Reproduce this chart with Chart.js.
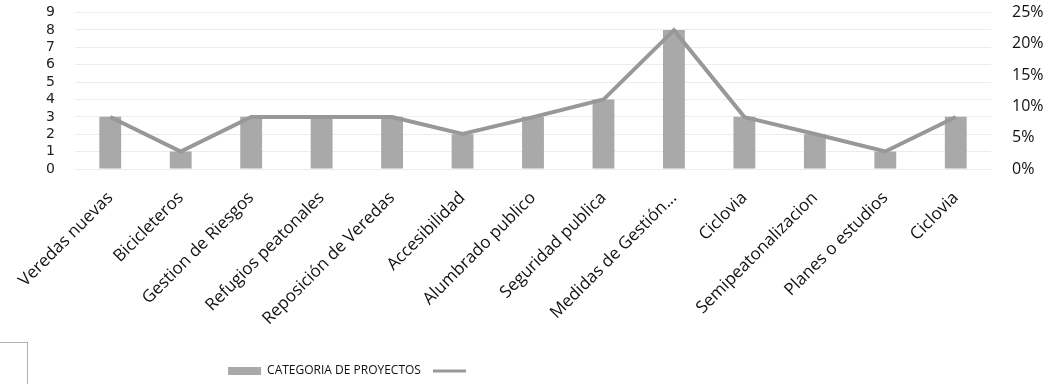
<!DOCTYPE html>
<html>
<head>
<meta charset="utf-8">
<script src="https://cdn.jsdelivr.net/npm/chart.js@4"></script>
<style>
  html, body { margin: 0; padding: 0; background: #fff; overflow: hidden; }
  #wrap { position: relative; width: 1060px; height: 384px; overflow: hidden; }
  #myChart { position: absolute; left: 0; top: -18px; }
  #corner { position: absolute; left: -1px; top: 342px; width: 27px; height: 50px; border: 1px solid #b0b0b0; }
</style>
</head>
<body>
<div id="wrap">
  <canvas id="myChart" width="1060" height="402"></canvas>
  <div id="corner"></div>
</div>
<script>
const categories = [
  'Veredas nuevas', 'Bicicleteros', 'Gestion de Riesgos', 'Refugios peatonales',
  'Reposición de Veredas', 'Accesibilidad', 'Alumbrado publico', 'Seguridad publica',
  'Medidas de Gestión...', 'Ciclovia', 'Semipeatonalizacion', 'Planes o estudios', 'Ciclovia'
]
const projectCounts = [3, 1, 3, 3, 3, 2, 3, 4, 8, 3, 2, 1, 3]
const projectShare = [8.3, 2.8, 8.3, 8.3, 8.3, 5.6, 8.3, 11.1, 22.2, 8.3, 5.6, 2.8, 8.3]
const leftTicks = [0, 1, 2, 3, 4, 5, 6, 7, 8, 9]
const rightTicks = [0, 5, 10, 15, 20, 25]

const barGray = '#a9a9a9'
const lineGray = '#989898'

// push the legend over to where it sits in the original page
const legendShift = {
  id: 'legendShift',
  afterLayout (chart) {
    const lg = chart.legend
    if (!lg) return
    lg.left -= 180
    lg.right -= 180
    lg.top += 3
    lg.bottom += 3
  }
}

var ctx = document.getElementById('myChart').getContext('2d');
var chart = new Chart(ctx, {
  type: 'bar',
  data: {
    labels: categories,
    datasets: [
      {
        type: 'line',
        label: '',
        data: projectShare,
        yAxisID: 'y1',
        borderColor: lineGray,
        backgroundColor: lineGray,
        borderWidth: 4,
        pointRadius: 0,
        pointStyle: 'line',
        tension: 0,
        order: 0
      },
      {
        label: 'CATEGORIA DE PROYECTOS',
        data: projectCounts,
        yAxisID: 'y',
        backgroundColor: barGray,
        borderWidth: 0,
        categoryPercentage: 1,
        barPercentage: 0.31,
        order: 1
      }
    ]
  },
  options: {
    responsive: false,
    animation: false,
    layout: { padding: 0 },
    plugins: {
      tooltip: { enabled: false },
      legend: {
        position: 'bottom',
        reverse: true,
        labels: {
          usePointStyle: true,
          pointStyleWidth: 33,
          boxHeight: 8,
          padding: 12,
          color: '#111',
          font: { family: 'Open Sans', size: 12 },
          generateLabels (chart) {
            const items = Chart.defaults.plugins.legend.labels.generateLabels(chart)
            return items.map(it => {
              const ds = chart.data.datasets[it.datasetIndex]
              if (ds.type === 'line') {
                it.pointStyle = 'line'
                it.lineWidth = 3
                it.strokeStyle = lineGray
              } else {
                it.pointStyle = 'rect'
                it.lineWidth = 0
              }
              return it
            })
          }
        }
      }
    },
    scales: {
      x: {
        grid: { display: false, drawTicks: false },
        border: { display: false },
        ticks: {
          minRotation: 45,
          maxRotation: 45,
          padding: 19,
          autoSkip: false,
          color: '#111',
          font: { family: 'Open Sans', size: 17 }
        },
        afterFit (s) { s.height = 181 }
      },
      y: {
        position: 'left',
        min: 0,
        max: 9,
        afterBuildTicks (s) { s.ticks = leftTicks.map(v => ({ value: v })) },
        grid: { color: '#ececec', drawTicks: false },
        border: { display: false },
        ticks: {
          autoSkip: false,
          padding: 20,
          color: '#222',
          font: { family: 'DejaVu Sans', size: 14 }
        },
        afterFit (s) { s.width = 75 }
      },
      y1: {
        position: 'right',
        min: 0,
        max: 25,
        afterBuildTicks (s) { s.ticks = rightTicks.map(v => ({ value: v })) },
        grid: { display: false, drawTicks: false },
        border: { display: false },
        ticks: {
          autoSkip: false,
          padding: 21,
          color: '#111',
          font: { family: 'Open Sans', size: 16 },
          callback: v => v + '%'
        },
        afterFit (s) { s.width = 69 }
      }
    }
  },
  plugins: [legendShift]
});
</script>
</body>
</html>
